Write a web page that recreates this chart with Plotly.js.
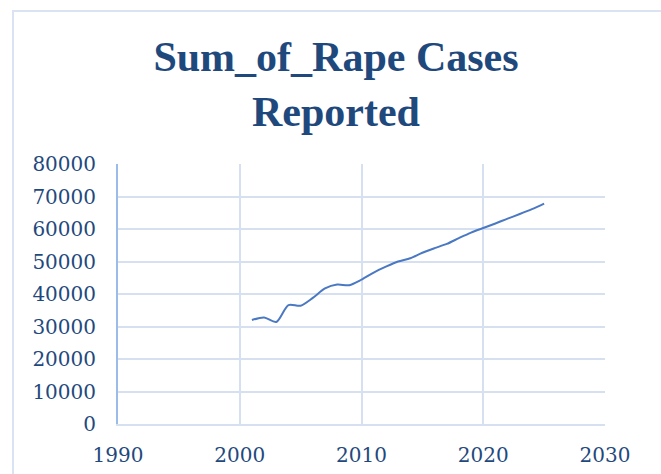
<!DOCTYPE html>
<html>
<head>
<meta charset="utf-8">
<script src="https://cdn.plot.ly/plotly-3.0.1.min.js"></script>
<style>
  body { margin: 0; background: #fff; }
  #wykres { position: absolute; left: 0; top: 0; width: 661px; height: 474px; }
  #ramka { position: absolute; left: 12px; top: 10px; width: 647px; height: 520px;
           border: 2px solid #dae3f3; pointer-events: none; }
</style>
</head>
<body>
<div id="wykres"></div>
<div id="ramka"></div>
<script>
// lata i liczba zgloszonych przypadkow
const lata = [2001, 2002, 2003, 2004, 2005, 2006, 2007, 2008, 2009, 2010, 2011, 2012, 2013,
  2014, 2015, 2016, 2017, 2018, 2019, 2020, 2021, 2022, 2023, 2024, 2025];
const przypadki = [32000, 32800, 31400, 36600, 36400, 38800, 41700, 42900, 42700, 44400, 46600,
  48400, 50000, 51000, 52700, 54100, 55400, 57200, 58900, 60300, 61700, 63200, 64600, 66100, 67800];

const tytul = 'Sum_of_Rape Cases<br>Reported';
const kolorTekstu = '#1f497d';
const kolorSiatki = '#d6e0f1';

const trace = {
  x: lata,
  y: przypadki,
  mode: 'lines',
  line: { color: '#4a78c2', width: 2, shape: 'spline', smoothing: 0.8 },
  hoverinfo: 'skip'
};

const layout = {
  width: 661,
  height: 474,
  margin: { l: 118, r: 56, t: 164, b: 50 },
  paper_bgcolor: '#ffffff',
  plot_bgcolor: '#ffffff',
  showlegend: false,
  title: {
    text: tytul,
    font: { family: 'Liberation Serif, serif', size: 42, color: kolorTekstu, weight: 'bold' },
    x: 336 / 661,
    xanchor: 'center',
    xref: 'container',
    y: 1 - 71 / 474,
    yanchor: 'top',
    yref: 'container'
  },
  xaxis: {
    range: [1990, 2030],
    dtick: 10,
    tick0: 1990,
    showgrid: true,
    gridcolor: kolorSiatki,
    gridwidth: 2,
    showline: true,
    linecolor: kolorSiatki,
    linewidth: 2,
    zeroline: false,
    ticks: '',
    ticklabelstandoff: 12,
    tickfont: { family: 'DejaVu Serif, serif', size: 20, color: kolorTekstu }
  },
  yaxis: {
    range: [0, 80000],
    dtick: 10000,
    tickformat: 'd',
    showgrid: true,
    gridcolor: kolorSiatki,
    gridwidth: 2,
    showline: true,
    linecolor: '#9bbbe8',
    linewidth: 2,
    zeroline: false,
    ticks: '',
    ticklabelstandoff: 16,
    tickfont: { family: 'DejaVu Serif, serif', size: 20, color: kolorTekstu }
  }
};

Plotly.newPlot('wykres', [trace], layout, { displayModeBar: false, staticPlot: true });
</script>
</body>
</html>
